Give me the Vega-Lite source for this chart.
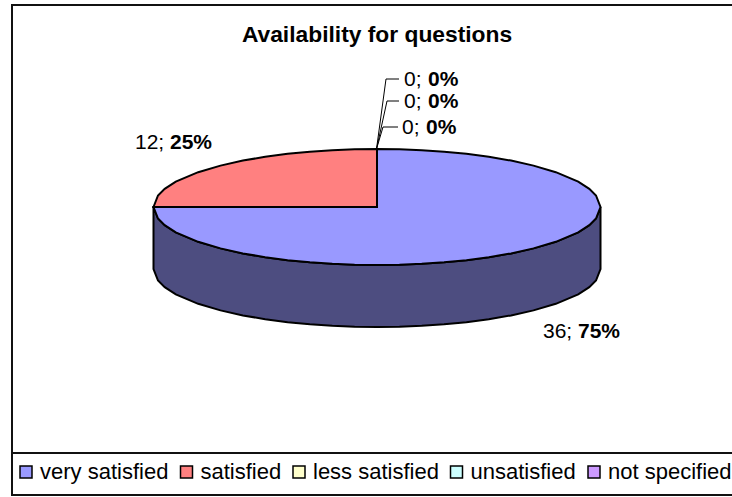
{
"$schema":"https://vega.github.io/schema/vega-lite/v6.json",
"width":732,"height":497,"padding":0,"autosize":"none","background":"white",
"title":{"text":"Availability for questions","font":"Liberation Sans","fontSize":22.8,"fontWeight":"bold","color":"black","anchor":"middle","frame":"group","dx":11,"dy":47,"offset":0},
"config":{"view":{"stroke":null}},
"datasets":{
"frame":[{"x":12,"x2":745,"y":5,"y2":453},{"x":12,"x2":745,"y":453,"y2":495}],
"side":[
{"x":153.5,"y":207,"y2":269},{"x":158,"y":218.5,"y2":280.5},{"x":164.7,"y":225.1,"y2":287.1},{"x":175.8,"y":232.3,"y2":294.3},{"x":198.2,"y":241.8,"y2":303.8},{"x":220.5,"y":248.4,"y2":310.4},{"x":242.9,"y":253.4,"y2":315.4},{"x":265.2,"y":257.2,"y2":319.2},{"x":287.6,"y":260.2,"y2":322.2},{"x":309.9,"y":262.3,"y2":324.3},{"x":332.3,"y":263.8,"y2":325.8},{"x":354.6,"y":264.7,"y2":326.7},{"x":377,"y":265,"y2":327},{"x":399.4,"y":264.7,"y2":326.7},{"x":421.7,"y":263.8,"y2":325.8},{"x":444.1,"y":262.3,"y2":324.3},{"x":466.4,"y":260.2,"y2":322.2},{"x":488.8,"y":257.2,"y2":319.2},{"x":511.1,"y":253.4,"y2":315.4},{"x":533.5,"y":248.4,"y2":310.4},{"x":555.8,"y":241.8,"y2":303.8},{"x":578.2,"y":232.3,"y2":294.3},{"x":589.3,"y":225.1,"y2":287.1},{"x":596,"y":218.5,"y2":280.5},{"x":600.5,"y":207,"y2":269}],
"top":[
{"s":"very satisfied","x":153.5,"y":207,"y2":207},{"s":"very satisfied","x":158,"y":207,"y2":218.5},{"s":"very satisfied","x":164.7,"y":207,"y2":225.1},{"s":"very satisfied","x":175.8,"y":207,"y2":232.3},{"s":"very satisfied","x":198.2,"y":207,"y2":241.8},{"s":"very satisfied","x":220.5,"y":207,"y2":248.4},{"s":"very satisfied","x":242.9,"y":207,"y2":253.4},{"s":"very satisfied","x":265.2,"y":207,"y2":257.2},{"s":"very satisfied","x":287.6,"y":207,"y2":260.2},{"s":"very satisfied","x":309.9,"y":207,"y2":262.3},{"s":"very satisfied","x":332.3,"y":207,"y2":263.8},{"s":"very satisfied","x":354.6,"y":207,"y2":264.7},{"s":"very satisfied","x":377,"y":207,"y2":265},
{"s":"very satisfied","x":377.01,"y":149,"y2":265},{"s":"very satisfied","x":399.4,"y":149.3,"y2":264.7},{"s":"very satisfied","x":421.7,"y":150.2,"y2":263.8},{"s":"very satisfied","x":444.1,"y":151.7,"y2":262.3},{"s":"very satisfied","x":466.4,"y":153.8,"y2":260.2},{"s":"very satisfied","x":488.8,"y":156.8,"y2":257.2},{"s":"very satisfied","x":511.1,"y":160.6,"y2":253.4},{"s":"very satisfied","x":533.5,"y":165.6,"y2":248.4},{"s":"very satisfied","x":555.8,"y":172.2,"y2":241.8},{"s":"very satisfied","x":578.2,"y":181.7,"y2":232.3},{"s":"very satisfied","x":589.3,"y":188.9,"y2":225.1},{"s":"very satisfied","x":596,"y":195.5,"y2":218.5},{"s":"very satisfied","x":600.5,"y":207,"y2":207},
{"s":"satisfied","x":153.5,"y":207,"y2":207},{"s":"satisfied","x":158,"y":195.5,"y2":207},{"s":"satisfied","x":164.7,"y":188.9,"y2":207},{"s":"satisfied","x":175.8,"y":181.7,"y2":207},{"s":"satisfied","x":198.2,"y":172.2,"y2":207},{"s":"satisfied","x":220.5,"y":165.6,"y2":207},{"s":"satisfied","x":242.9,"y":160.6,"y2":207},{"s":"satisfied","x":265.2,"y":156.8,"y2":207},{"s":"satisfied","x":287.6,"y":153.8,"y2":207},{"s":"satisfied","x":309.9,"y":151.7,"y2":207},{"s":"satisfied","x":332.3,"y":150.2,"y2":207},{"s":"satisfied","x":354.6,"y":149.3,"y2":207},{"s":"satisfied","x":377,"y":149,"y2":207}],
"leaders":[
{"k":"less satisfied","i":0,"x":376.5,"y":149},{"k":"less satisfied","i":1,"x":386,"y":79},{"k":"less satisfied","i":2,"x":399,"y":79},
{"k":"unsatisfied","i":0,"x":376.5,"y":149},{"k":"unsatisfied","i":1,"x":387,"y":101},{"k":"unsatisfied","i":2,"x":399,"y":101},
{"k":"not specified","i":0,"x":376.5,"y":149},{"k":"not specified","i":1,"x":383,"y":127},{"k":"not specified","i":2,"x":398,"y":127}],
"labels":[
{"count":"36;","pct":"75%","x":543,"xb":578,"y":332},
{"count":"12;","pct":"25%","x":135,"xb":170,"y":143},
{"count":"0;","pct":"0%","x":404,"xb":428,"y":80},
{"count":"0;","pct":"0%","x":404,"xb":428,"y":102},
{"count":"0;","pct":"0%","x":402,"xb":426,"y":128}]
},
"layer":[
{"data":{"name":"frame"},"mark":{"type":"rect","fill":"white","stroke":"#111111","strokeWidth":2,"clip":false},
 "encoding":{"x":{"field":"x","type":"quantitative","scale":{"domain":[0,732],"nice":false,"zero":false},"axis":null},"x2":{"field":"x2"},"y":{"field":"y","type":"quantitative","scale":{"domain":[497,0],"nice":false,"zero":false},"axis":null},"y2":{"field":"y2"}}},
{"data":{"name":"side"},"mark":{"type":"area","orient":"vertical","fill":"#4D4D80","stroke":"black","strokeWidth":2},
 "encoding":{"x":{"field":"x","type":"quantitative"},"y":{"field":"y","type":"quantitative","stack":null},"y2":{"field":"y2"}}},
{"data":{"name":"top"},"mark":{"type":"area","orient":"vertical","stroke":"black","strokeWidth":2,"fillOpacity":1},
 "encoding":{"x":{"field":"x","type":"quantitative"},"y":{"field":"y","type":"quantitative","stack":null},"y2":{"field":"y2"},
  "color":{"field":"s","type":"nominal","sort":null,"scale":{"domain":["very satisfied","satisfied","less satisfied","unsatisfied","not specified"],"range":["#9999FF","#FF8080","#FFFFCC","#CCFFFF","#CC99FF"]},
   "legend":{"title":null,"orient":"none","legendX":15,"legendY":461,"direction":"horizontal","columns":5,"gridAlign":"none","columnPadding":6.5,"labelOffset":3,"symbolType":"square","symbolSize":144,"symbolStrokeColor":"black","symbolStrokeWidth":1.5,"symbolOpacity":1,"labelFont":"Liberation Sans","labelFontSize":22,"labelColor":"black","labelLimit":200,"symbolOffset":0}}}},
{"data":{"name":"leaders"},"mark":{"type":"line","color":"black","strokeWidth":1},
 "encoding":{"x":{"field":"x","type":"quantitative"},"y":{"field":"y","type":"quantitative"},"detail":{"field":"k"},"order":{"field":"i"}}},
{"data":{"name":"labels"},"mark":{"type":"text","align":"left","baseline":"middle","font":"Liberation Sans","fontSize":21,"color":"black"},
 "encoding":{"x":{"field":"x","type":"quantitative"},"y":{"field":"y","type":"quantitative"},"text":{"field":"count"}}},
{"data":{"name":"labels"},"mark":{"type":"text","align":"left","baseline":"middle","font":"Liberation Sans","fontSize":21,"fontWeight":"bold","color":"black"},
 "encoding":{"x":{"field":"xb","type":"quantitative"},"y":{"field":"y","type":"quantitative"},"text":{"field":"pct"}}}
]
}
